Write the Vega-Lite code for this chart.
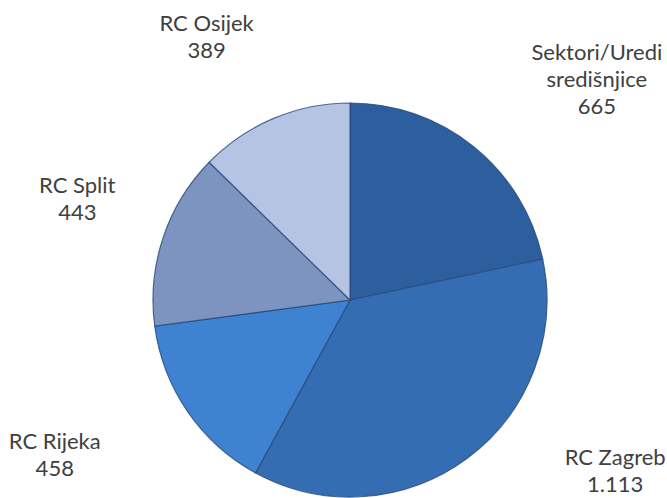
{
  "$schema": "https://vega.github.io/schema/vega-lite/v6.json",
  "autosize": "none",
  "width": 634,
  "height": 396,
  "padding": {"left": 33, "top": 102, "right": 0, "bottom": 0},
  "background": "white",
  "config": {
    "view": {"stroke": null},
    "locale": {"number": {"decimal": ",", "thousands": ".", "grouping": [3], "currency": ["", ""]}}
  },
  "data": {
    "values": [
      {"idx": 1, "name": "Sektori/Uredi središnjice", "label": "Sektori/Uredi\nsredišnjice", "value": 665},
      {"idx": 2, "name": "RC Zagreb", "label": "RC Zagreb", "value": 1113},
      {"idx": 3, "name": "RC Rijeka", "label": "RC Rijeka", "value": 458},
      {"idx": 4, "name": "RC Split", "label": "RC Split", "value": 443},
      {"idx": 5, "name": "RC Osijek", "label": "RC Osijek", "value": 389}
    ]
  },
  "transform": [
    {"calculate": "datum.label + '\\n' + format(datum.value, ',')", "as": "txt"}
  ],
  "encoding": {
    "theta": {"field": "value", "type": "quantitative", "stack": true},
    "order": {"field": "idx", "type": "ordinal"}
  },
  "layer": [
    {
      "mark": {"type": "arc", "outerRadius": 197, "stroke": "#274a7c", "strokeWidth": 1.2, "strokeOpacity": 0.8},
      "encoding": {
        "color": {
          "field": "name",
          "type": "nominal",
          "legend": null,
          "scale": {
            "domain": ["Sektori/Uredi središnjice", "RC Zagreb", "RC Rijeka", "RC Split", "RC Osijek"],
            "range": ["#2D5E9E", "#356DB3", "#3F82D2", "#7D93C0", "#B6C4E3"]
          }
        }
      }
    },
    {
      "mark": {"type": "text", "radius": 300, "dx": 58, "dy": -14, "align": "center", "baseline": "middle", "lineBreak": "\n", "lineHeight": 27, "font": "Lato", "fontSize": 22, "fill": "#404040"},
      "encoding": {
        "detail": {"field": "name", "type": "nominal"},
        "text": {"condition": {"test": "datum.idx === 1", "field": "txt"}, "value": ""}
      }
    },
    {
      "mark": {"type": "text", "radius": 300, "dx": 86, "dy": -83, "align": "center", "baseline": "middle", "lineBreak": "\n", "lineHeight": 27, "font": "Lato", "fontSize": 22, "fill": "#404040"},
      "encoding": {
        "detail": {"field": "name", "type": "nominal"},
        "text": {"condition": {"test": "datum.idx === 2", "field": "txt"}, "value": ""}
      }
    },
    {
      "mark": {"type": "text", "radius": 300, "dx": -48, "dy": -28, "align": "center", "baseline": "middle", "lineBreak": "\n", "lineHeight": 27, "font": "Lato", "fontSize": 22, "fill": "#404040"},
      "encoding": {
        "detail": {"field": "name", "type": "nominal"},
        "text": {"condition": {"test": "datum.idx === 3", "field": "txt"}, "value": ""}
      }
    },
    {
      "mark": {"type": "text", "radius": 300, "dx": 12, "dy": -19, "align": "center", "baseline": "middle", "lineBreak": "\n", "lineHeight": 27, "font": "Lato", "fontSize": 22, "fill": "#404040"},
      "encoding": {
        "detail": {"field": "name", "type": "nominal"},
        "text": {"condition": {"test": "datum.idx === 4", "field": "txt"}, "value": ""}
      }
    },
    {
      "mark": {"type": "text", "radius": 300, "dx": -27, "dy": 1, "align": "center", "baseline": "middle", "lineBreak": "\n", "lineHeight": 27, "font": "Lato", "fontSize": 22, "fill": "#404040"},
      "encoding": {
        "detail": {"field": "name", "type": "nominal"},
        "text": {"condition": {"test": "datum.idx === 5", "field": "txt"}, "value": ""}
      }
    }
  ]
}
